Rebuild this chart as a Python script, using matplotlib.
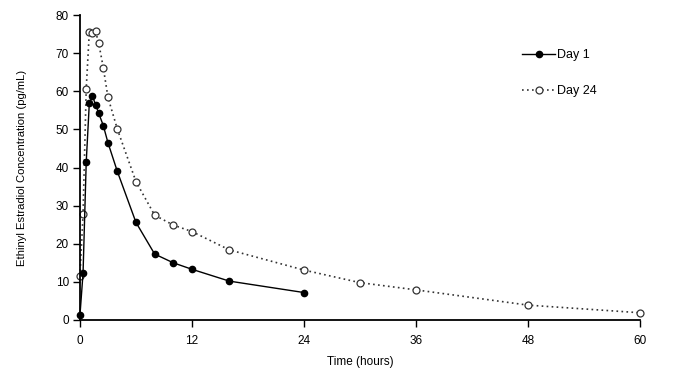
import numpy as np
import matplotlib.pyplot as plt

plt.rcParams['font.family'] = ['Liberation Sans', 'DejaVu Sans']

# Day 1 profile
t_day1 = [0, 0.33, 0.67, 1, 1.33, 1.67, 2, 2.5, 3, 4, 6, 8, 10, 12, 16, 24]
c_day1 = [1.3, 12.3, 41.4, 56.8, 58.8, 56.5, 54.3, 51.0, 46.5, 39.0, 25.6, 17.3, 15.0, 13.3, 10.2, 7.2]

# Day 24 profile
t_day24 = [0, 0.33, 0.67, 1, 1.33, 1.67, 2, 2.5, 3, 4, 6, 8, 10, 12, 16, 24, 30, 36, 48, 60]
c_day24 = [11.6, 27.7, 60.7, 75.5, 75.4, 75.7, 72.7, 66.2, 58.4, 50.1, 36.3, 27.5, 24.9, 23.2, 18.4, 13.1, 9.8, 7.9, 3.9, 1.9]

xticks = [0, 12, 24, 36, 48, 60]
yticks = np.arange(0, 81, 10)

fig = plt.figure(figsize=(6.87, 3.86), dpi=100)
ax = fig.add_axes([0.1164, 0.171, 0.8152, 0.79])

ax.plot(t_day1, c_day1, color='black', linewidth=1.0, marker='o', markersize=4.5,
        markerfacecolor='black', markeredgecolor='black', label='Day 1', clip_on=False, zorder=3)
ax.plot(t_day24, c_day24, color='#333333', linewidth=1.2, linestyle=(0, (1, 2)), marker='o',
        markersize=5, markerfacecolor='white', markeredgecolor='#333333', markeredgewidth=0.9,
        label='Day 24', clip_on=False, zorder=2)

ax.set_xlim(0, 60)
ax.set_ylim(0, 80)
ax.set_xticks(xticks)
ax.set_yticks(yticks)
ax.spines['top'].set_visible(False)
ax.spines['right'].set_visible(False)
ax.spines['left'].set_linewidth(1.3)
ax.spines['bottom'].set_linewidth(1.3)
ax.tick_params(direction='out', length=5, width=1.0, labelsize=8.5)
ax.tick_params(axis='y', pad=3)
ax.tick_params(axis='x', pad=6)
ax.set_xlabel('Time (hours)', fontsize=8.5, labelpad=6)
ax.set_ylabel('Ethinyl Estradiol Concentration (pg/mL)', fontsize=8.1, labelpad=20.5)

ax.legend(loc='upper left', bbox_to_anchor=(0.77, 0.925), frameon=False, fontsize=9,
          labelspacing=1.9, handlelength=2.6, handletextpad=0.2)

fig.savefig('out.png', dpi=100)
